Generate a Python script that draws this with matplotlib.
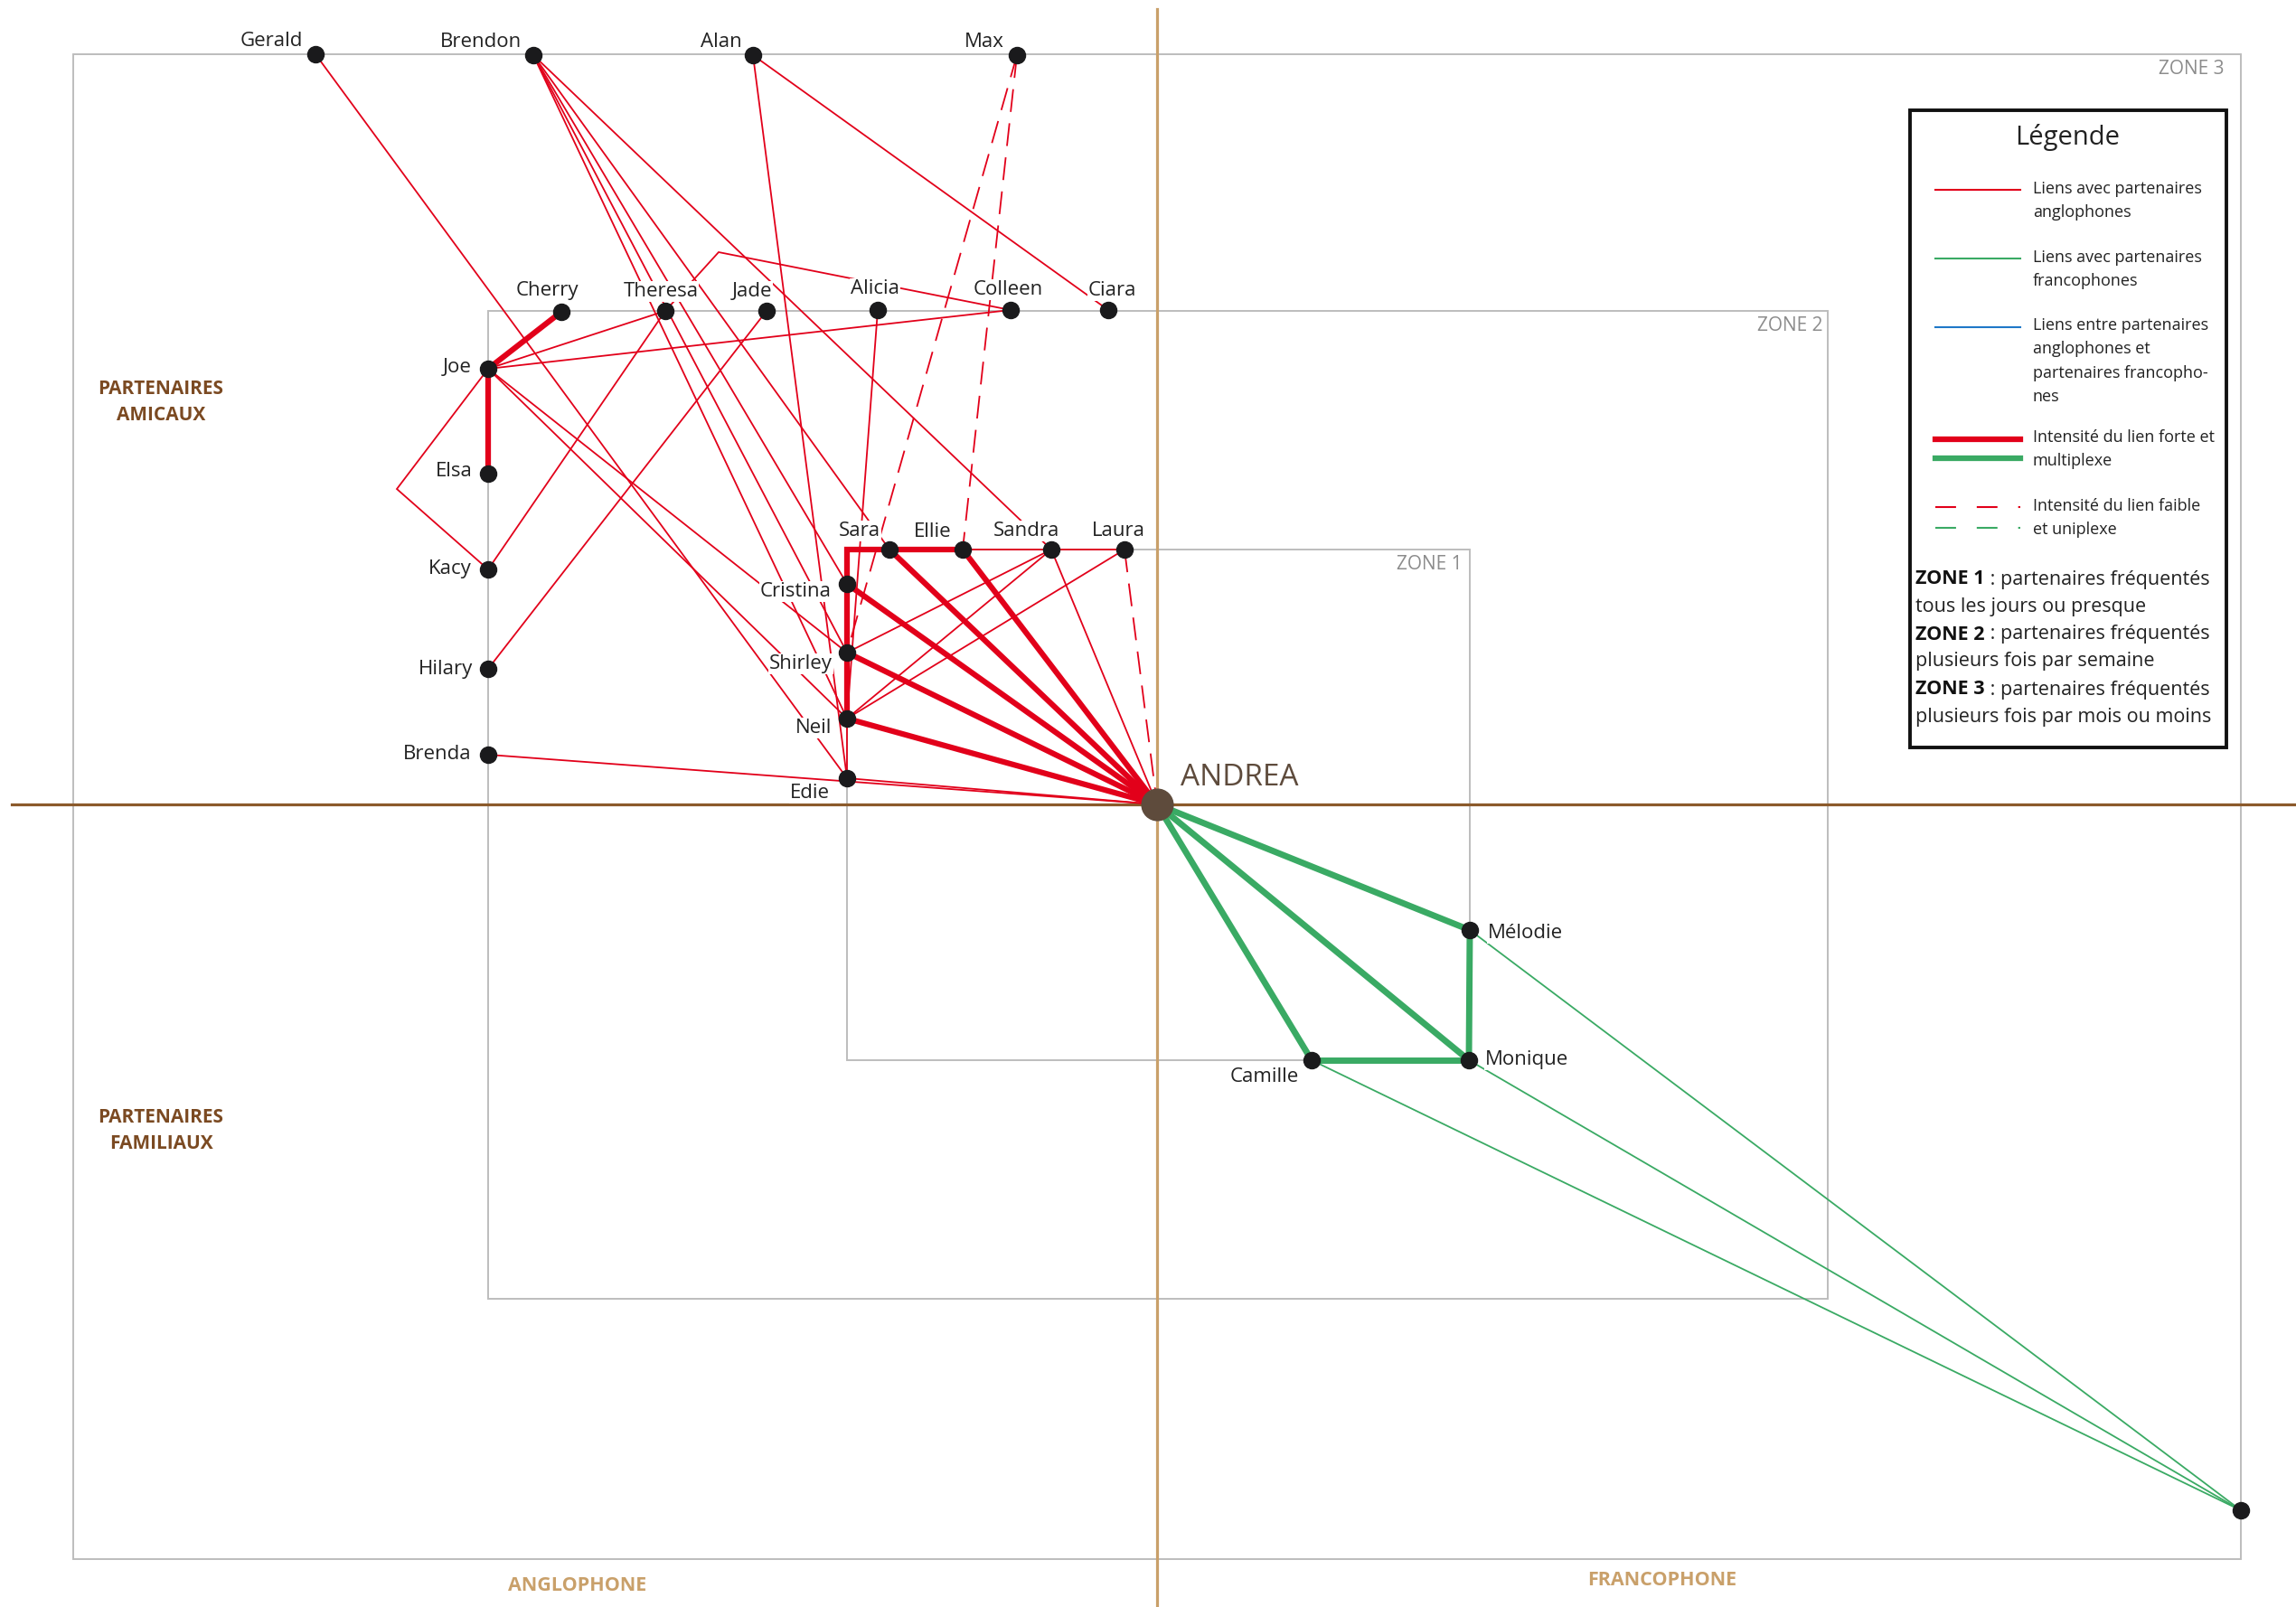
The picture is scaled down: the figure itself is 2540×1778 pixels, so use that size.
import matplotlib.pyplot as plt
from matplotlib.patches import Rectangle

plt.rcParams["font.family"] = ["Open Sans", "DejaVu Sans"]

RED = "#e2001a"
GREEN = "#3aaa64"
BLUE = "#1f78c8"
DOT = "#1a1a1c"
BROWN = "#7b4a22"
TAN = "#c9a06a"
ZONE_GREY = "#bdbdbd"

# sociogram layout (page units, y grows downward)
names = ["Gerald", "Brendon", "Alan", "Max",
         "Cherry", "Theresa", "Jade", "Alicia", "Colleen", "Ciara",
         "Joe", "Elsa", "Kacy", "Hilary", "Brenda",
         "Sara", "Ellie", "Sandra", "Laura",
         "Cristina", "Shirley", "Neil", "Edie",
         "Mélodie", "Monique", "Camille", ""]
node_x = [349, 590, 833, 1125,
          621, 736, 848, 971, 1118, 1226,
          540, 540, 540, 540, 540,
          984, 1065, 1163, 1244,
          937, 937, 937, 937,
          1626, 1625, 1451, 2479]
node_y = [60, 61, 61, 61,
          345, 344, 344, 343, 343, 343,
          408, 524, 630, 740, 835,
          608, 608, 608, 608,
          646, 722, 795, 861,
          1029, 1173, 1173, 1671]
ego = ("ANDREA", 1280, 890)

# label placement: (dx, dy to baseline, ha)
label_pos = [(-14, -9, "right"), (-13, -9, "right"), (-12, -9, "right"), (-14, -9, "right"),
             (-16, -18, "center"), (-5, -16, "center"), (-16, -16, "center"), (-3, -18, "center"),
             (-3, -17, "center"), (4, -16, "center"),
             (-18, 4, "right"), (-17, 3, "right"), (-18, 5, "right"), (-17, 6, "right"),
             (-18, 5, "right"),
             (-33, -15, "center"), (-33, -14, "center"), (-28, -15, "center"), (-7, -15, "center"),
             (-17, 14, "right"), (-16, 18, "right"), (-17, 16, "right"), (-19, 22, "right"),
             (20, 9, "left"), (18, 5, "left"), (-14, 24, "right"), (0, 0, "left")]

# links with anglophone partners
red_strong = [("Joe", "Cherry"), ("Joe", "Elsa"), ("Sara", "Ellie"), ("Sara", "Cristina"),
              ("Cristina", "Shirley"), ("Shirley", "Neil"),
              ("Sara", "ANDREA"), ("Ellie", "ANDREA"), ("Cristina", "ANDREA"),
              ("Shirley", "ANDREA"), ("Neil", "ANDREA")]
red_normal = [("Gerald", "Edie"), ("Brendon", "Cristina"), ("Brendon", "Shirley"),
              ("Brendon", "Neil"), ("Brendon", "Sara"), ("Brendon", "Sandra"),
              ("Alan", "Ciara"), ("Alan", "Edie"), ("Alicia", "Neil"),
              ("Theresa", "Joe"), ("Theresa", "Kacy"), ("Theresa", "Colleen"),
              ("Jade", "Hilary"), ("Joe", "Colleen"), ("Joe", "Kacy"),
              ("Joe", "Shirley"), ("Joe", "Neil"), ("Brenda", "ANDREA"),
              ("Edie", "ANDREA"), ("Neil", "Edie"), ("Ellie", "Sandra"),
              ("Sandra", "Laura"), ("Sandra", "ANDREA"), ("Sandra", "Shirley"),
              ("Sandra", "Neil"), ("Laura", "Neil")]
red_weak = [("Max", "Shirley"), ("Max", "Ellie"), ("Laura", "ANDREA")]

# links with francophone partners
green_strong = [("ANDREA", "Mélodie"), ("ANDREA", "Monique"), ("ANDREA", "Camille"),
                ("Mélodie", "Monique"), ("Camille", "Monique")]
green_normal = [("Mélodie", ""), ("Monique", ""), ("Camille", "")]

# links routed around other partners
bends = {("Joe", "Kacy"): [(439, 541)],
         ("Sara", "Cristina"): [(937, 608)],
         ("Theresa", "Colleen"): [(795, 279)]}

# frequency zones: (left, top, right, bottom)
zones = {"ZONE 1": (937, 608, 1626, 1173),
         "ZONE 2": (540, 344, 2022, 1437),
         "ZONE 3": (81, 60, 2479, 1725)}
zone_label_inset = {"ZONE 1": 8, "ZONE 2": 5, "ZONE 3": 18}

legend_items = ["Liens avec partenaires\nanglophones",
                "Liens avec partenaires\nfrancophones",
                "Liens entre partenaires\nanglophones et\npartenaires francopho-\nnes",
                "Intensité du lien forte et\nmultiplexe",
                "Intensité du lien faible\net uniplexe"]
zone_notes = [("ZONE 1", "partenaires fréquentés", "tous les jours ou presque"),
              ("ZONE 2", "partenaires fréquentés", "plusieurs fois par semaine"),
              ("ZONE 3", "partenaires fréquentés", "plusieurs fois par mois ou moins")]

pos = {n: (x, y) for n, x, y in zip(names, node_x, node_y)}
pos[ego[0]] = (ego[1], ego[2])


def path(a, b):
    pts = [pos[a]] + bends.get((a, b), []) + [pos[b]]
    return [p[0] for p in pts], [p[1] for p in pts]


fig = plt.figure(figsize=(25.4, 17.78), dpi=100)
ax = fig.add_axes([0, 0, 1, 1])
ax.set_xlim(0, 2540)
ax.set_ylim(1778, 0)
ax.axis("off")

# zones
for zname, (l, t, r, b) in zones.items():
    ax.add_patch(Rectangle((l, t), r - l, b - t, fill=False, ec=ZONE_GREY, lw=1.4, zorder=1))
    ax.text(r - zone_label_inset[zname], t + 17, zname, ha="right", va="center", fontsize=15,
            color="#8c8c8c", zorder=1)

# language / relation axes
ax.plot([13, 2540], [ego[2], ego[2]], color="#8b5a2b", lw=2.3, zorder=2)
ax.plot([ego[1], ego[1]], [10, 1778], color=TAN, lw=2.3, zorder=2)

# links
for a, b in red_normal:
    ax.plot(*path(a, b), color=RED, lw=1.3, zorder=3, solid_joinstyle="miter")
for a, b in red_weak:
    ax.plot(*path(a, b), color=RED, lw=1.3, ls=(0, (14, 7)), zorder=3)
for a, b in red_strong:
    ax.plot(*path(a, b), color=RED, lw=4.5, zorder=4, solid_joinstyle="miter")
for a, b in green_normal:
    ax.plot(*path(a, b), color=GREEN, lw=1.3, zorder=3)
for a, b in green_strong:
    ax.plot(*path(a, b), color=GREEN, lw=5, zorder=4)

# labels
for n, x, y, (dx, dy, ha) in zip(names, node_x, node_y, label_pos):
    if n:
        ax.text(x + dx, y + dy, n, ha=ha, va="baseline", fontsize=16, color="#222222",
                zorder=5, bbox=dict(fc="white", ec="none", pad=0.5))

# nodes
ax.plot(node_x, node_y, "o", ms=13, color=DOT, zorder=6)
ax.plot(ego[1], ego[2], "o", ms=25, color="#5e4b3c", zorder=7)
ax.text(ego[1] + 26, ego[2] - 21, ego[0], fontsize=24, color="#5e4b3c", va="baseline", zorder=7)

# quadrant titles
ax.text(178, 445, "PARTENAIRES\nAMICAUX", ha="center", va="center", fontsize=15,
        fontweight="bold", color=BROWN, linespacing=1.45)
ax.text(178, 1251, "PARTENAIRES\nFAMILIAUX", ha="center", va="center", fontsize=15,
        fontweight="bold", color=BROWN, linespacing=1.45)
ax.text(639, 1755, "ANGLOPHONE", ha="center", va="center", fontsize=15.5,
        fontweight="bold", color=TAN)
ax.text(1839, 1748, "FRANCOPHONE", ha="center", va="center", fontsize=15.5,
        fontweight="bold", color=TAN)

# legend box
ax.add_patch(Rectangle((2113, 122), 350, 705, fc="white", ec="#111111", lw=2.8, zorder=8))
ax.text(2287, 152, "Légende", ha="center", va="center", fontsize=21, color="#222222", zorder=9)
samples = [[(RED, 1.5, "-", 210)],
           [(GREEN, 1.5, "-", 286)],
           [(BLUE, 1.5, "-", 362)],
           [(RED, 4.5, "-", 486), (GREEN, 4.5, "-", 507)],
           [(RED, 1.5, (0, (11, 11)), 561), (GREEN, 1.5, (0, (11, 11)), 584)]]
text_centers = [210, 286, 361, 485, 561]
for item, sample, yc in zip(legend_items, samples, text_centers):
    for color, lw, ls, y in sample:
        ax.plot([2141, 2235], [y, y], color=color, lw=lw, ls=ls, zorder=9)
    ax.text(2249, yc - 10, item, ha="left", va="top", fontsize=13, color="#222222",
            linespacing=1.6, zorder=9)
for i, (zname, first, second) in enumerate(zone_notes):
    y = 641 + i * 61
    t = ax.text(2119, y, zname, ha="left", va="center", fontsize=15.5, fontweight="bold",
                color="#111111", zorder=9)
    ax.annotate(" : " + first, xycoords=t, xy=(1, 0.5), va="center", fontsize=15.5,
                color="#222222", zorder=9)
    ax.text(2119, y + 30, second, ha="left", va="center", fontsize=15.5, color="#222222", zorder=9)

fig.savefig("out.png", dpi=100, facecolor="white")
